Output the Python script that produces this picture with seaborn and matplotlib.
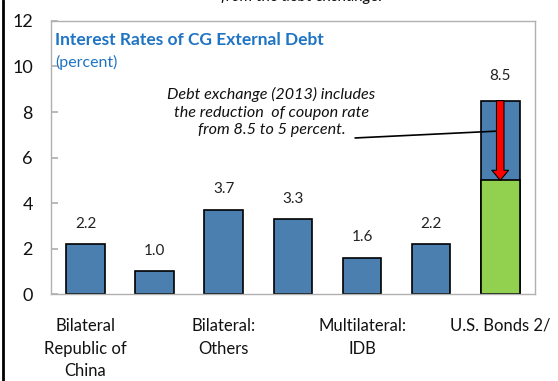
import matplotlib
matplotlib.use("Agg")
import matplotlib.pyplot as plt
import seaborn as sns
import pandas as pd
import numpy as np
from matplotlib.ticker import FixedLocator

sns.set_theme(style="white")
plt.rcParams["font.family"] = ["Lato", "DejaVu Sans"]

# Interest rates of central-government external debt, by creditor (percent)
keys = ["china", "b2", "others", "b4", "idb", "m6", "usbonds"]
tick_labels = ["Bilateral\nRepublic of\nChina", "", "Bilateral:\nOthers", "",
               "Multilateral:\nIDB", "", "U.S. Bonds 2/"]
rates = [2.2, 1.0, 3.7, 3.3, 1.6, 2.2, 8.5]
# Coupon after the 2013 debt exchange on U.S. bonds
new_coupon_key = ["usbonds"]
new_coupon = [5.0]

blue = "#4a7fb0"
green = "#92d050"
title_blue = "#1f74c4"

df = pd.DataFrame({"key": keys, "rate": rates})
df_new = pd.DataFrame({"key": new_coupon_key, "rate": new_coupon})

fig = plt.figure(figsize=(5.58, 3.81), dpi=100)
ax = fig.add_axes([0.0914, 0.228, 0.867, 0.717])

sns.barplot(data=df, x="key", y="rate", order=keys, color=blue,
            edgecolor="black", linewidth=1.2, width=0.56, saturation=1, ax=ax)
sns.barplot(data=df_new, x="key", y="rate", order=keys, color=green,
            edgecolor="black", linewidth=1.2, width=0.56, saturation=1, ax=ax)

# value labels above bars
for i, v in enumerate(rates):
    off = 1.08 if i == len(rates) - 1 else 0.9
    ax.text(i, v + off, f"{v:.1f}", ha="center", va="center", fontsize=11,
            color="#222222")

# red arrow showing the coupon reduction
xi = keys.index("usbonds")
ax.annotate("", xy=(xi, new_coupon[0]), xytext=(xi, rates[xi]),
            arrowprops=dict(arrowstyle="simple,head_width=1.0,head_length=0.6,tail_width=0.45",
                            fc="#ff0000", ec="black", lw=0.8,
                            shrinkA=0, shrinkB=0, mutation_scale=12))

# annotation text with leader line
ax.text(2.69, 8.0,
        "Debt exchange (2013) includes\nthe reduction  of coupon rate\nfrom 8.5 to 5 percent.",
        ha="center", va="center", fontsize=11.6, style="italic", color="#111111",
        linespacing=1.35)
ax.plot([3.9, 5.95], [6.86, 7.16], color="black", lw=1.2)

ax.set_ylim(0, 12)
ax.set_xlim(-0.5, len(keys) - 0.5)
ax.set_yticks(np.arange(0, 13, 2))
ax.set_xticks(range(len(keys)))
ax.set_xticklabels(tick_labels, fontsize=12, linespacing=1.52)
ax.xaxis.set_minor_locator(FixedLocator(np.arange(-0.5, len(keys), 1.0)))
ax.tick_params(axis="x", which="major", length=0, pad=17)
ax.tick_params(axis="x", which="minor", direction="in", length=5, color="#b0b0b0")
ax.tick_params(axis="y", direction="in", length=5, color="#b0b0b0", pad=13,
               labelsize=13, left=True)
for lab in ax.get_xticklabels() + ax.get_yticklabels():
    lab.set_color("#111111")
ax.set_xlabel("")
ax.set_ylabel("")
for s in ax.spines.values():
    s.set_color("#b0b0b0")
    s.set_linewidth(1.0)

# title inside the frame
ax.text(0.008, 0.93, "Interest Rates of CG External Debt", transform=ax.transAxes,
        fontsize=12.5, fontweight="bold", color=title_blue, ha="left", va="center")
ax.text(0.008, 0.848, "(percent)", transform=ax.transAxes,
        fontsize=11.5, color=title_blue, ha="left", va="center")

# partially visible note above the chart
fig.text(0.54, 1.008, "from the debt exchange.", ha="center", va="center",
         fontsize=11.5, style="italic", color="#111111")

# left border of the panel
fig.add_artist(plt.Line2D([0.005, 0.005], [0, 1], transform=fig.transFigure,
                          color="black", lw=2))

fig.savefig("out.png", dpi=100)
